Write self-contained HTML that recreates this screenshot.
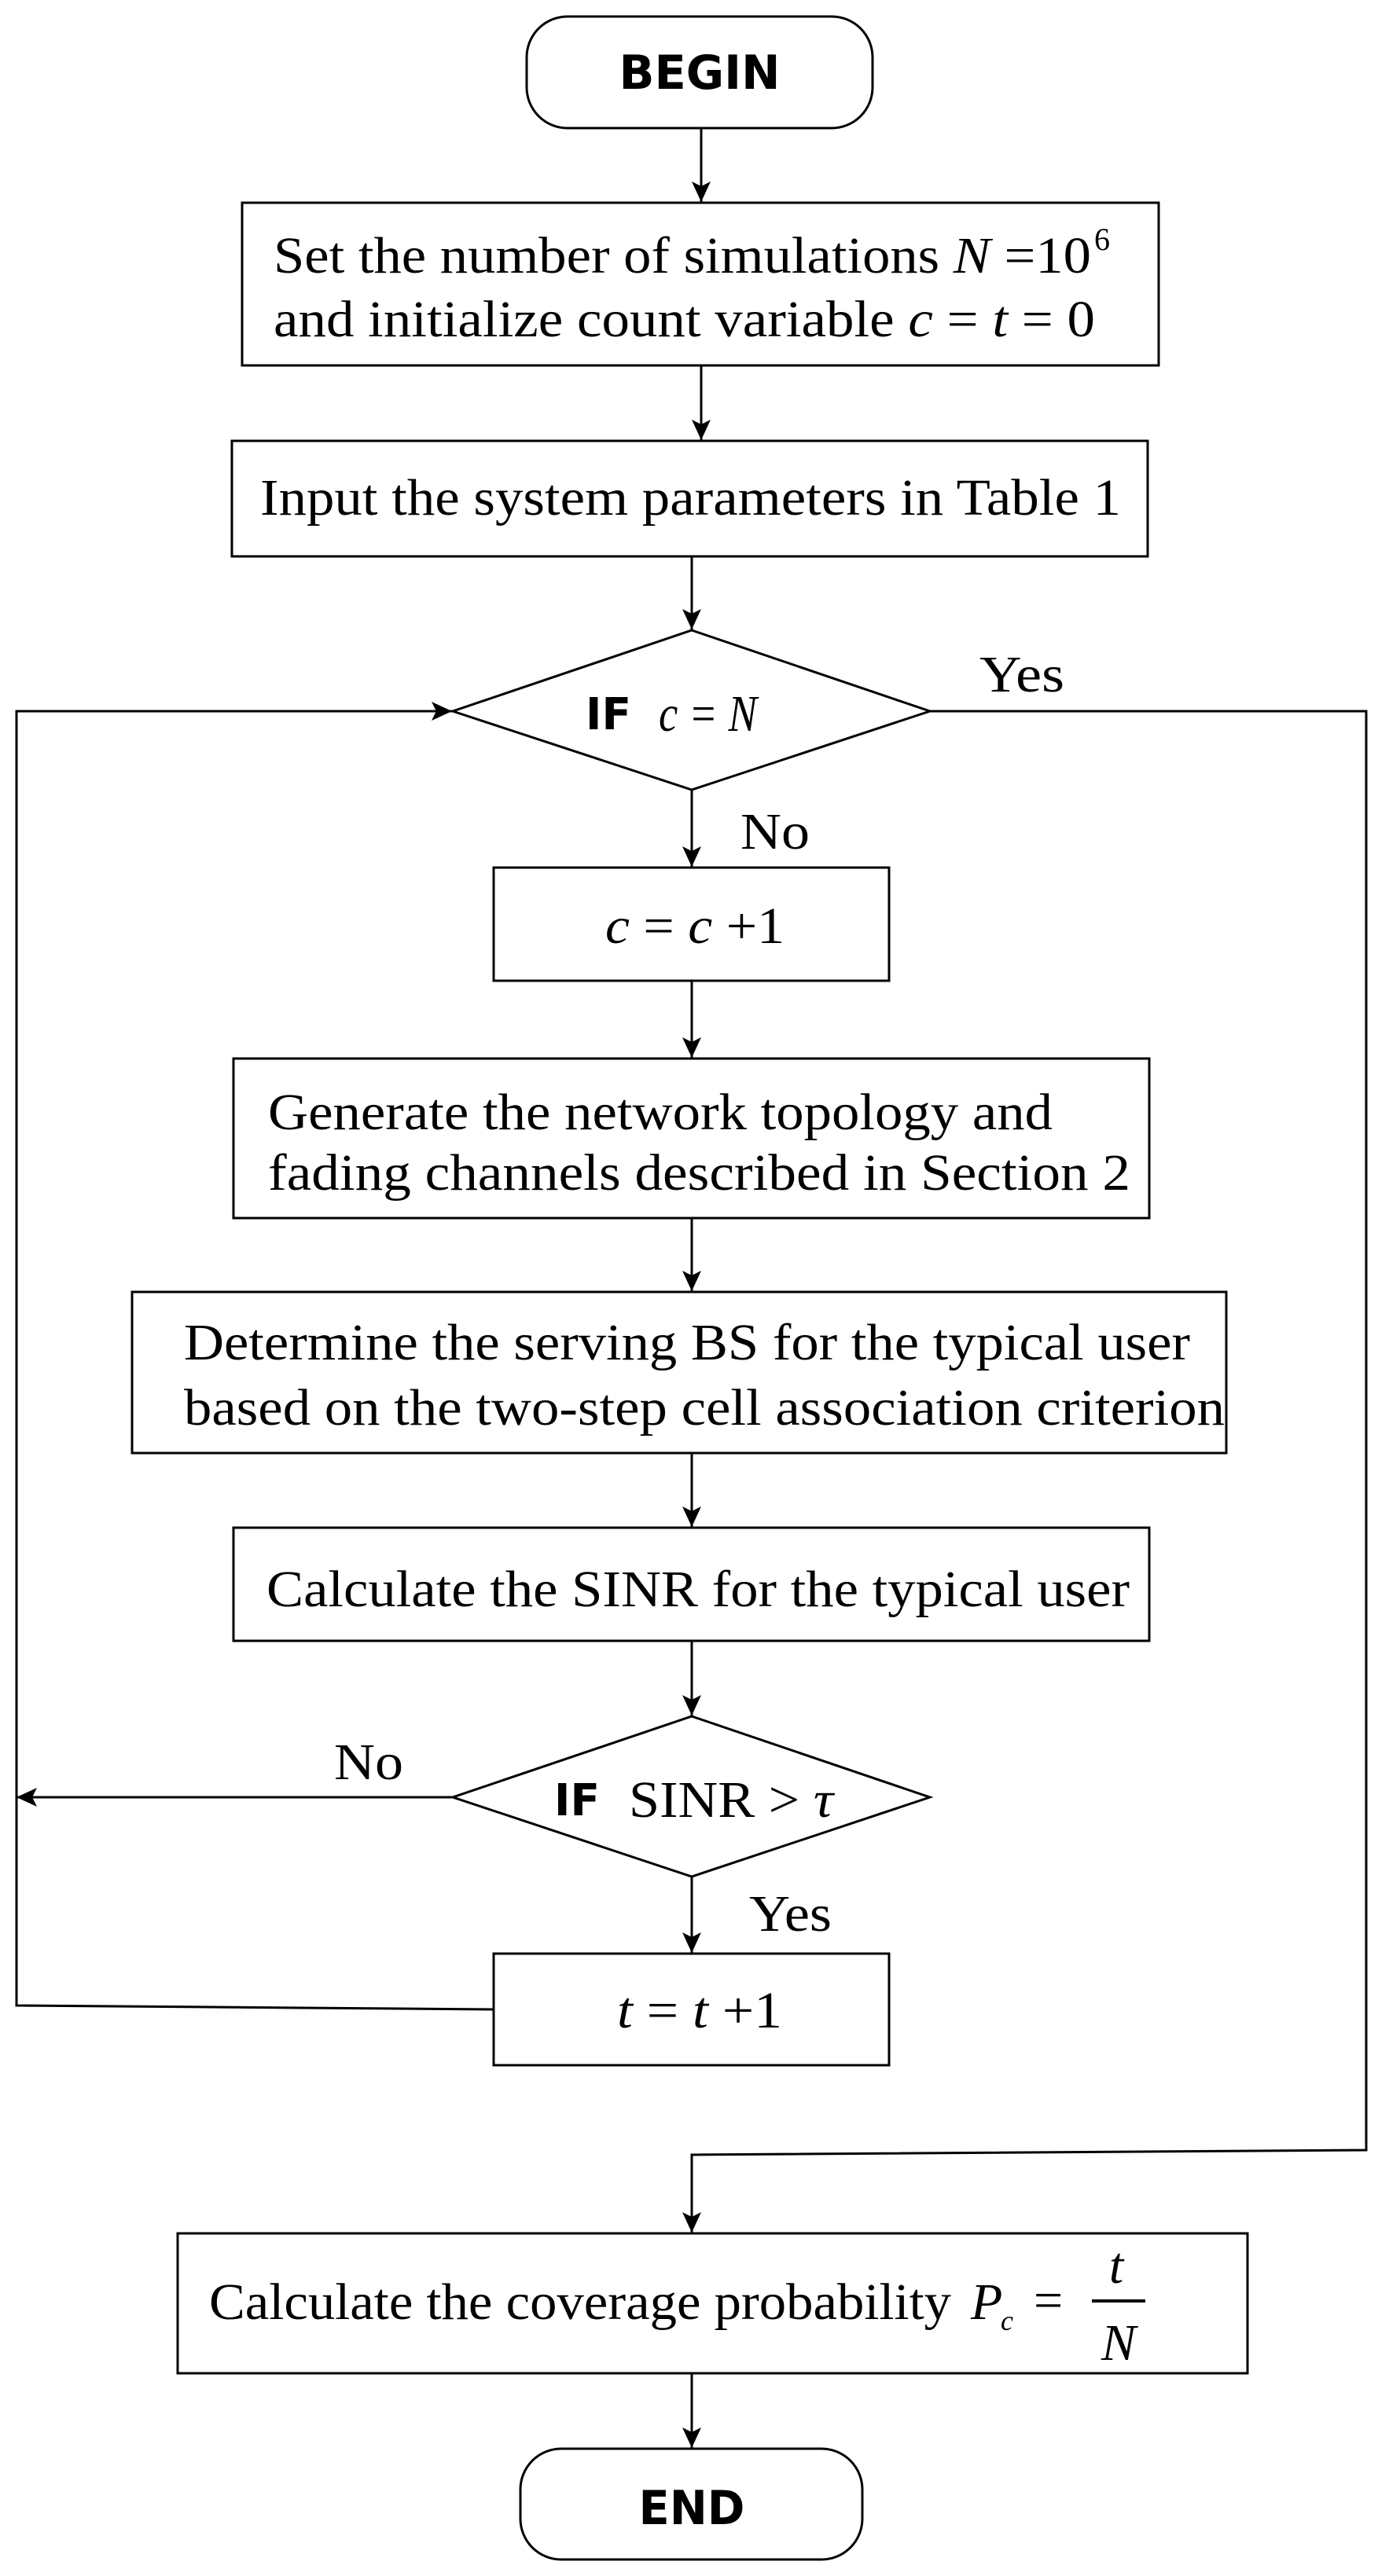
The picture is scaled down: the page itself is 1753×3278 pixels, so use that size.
<!DOCTYPE html>
<html><head><meta charset="utf-8"><style>html,body{margin:0;padding:0;background:#fff}svg{display:block}</style></head>
<body>
<svg width="1753" height="3278" viewBox="0 0 1753 3278" xmlns="http://www.w3.org/2000/svg">
<defs>
<marker id="ab" markerWidth="26" markerHeight="26" refX="26" refY="13" orient="auto" markerUnits="userSpaceOnUse">
<path d="M0,1 L26,13 L0,25 L6,13 Z" fill="#000"/>
</marker>
</defs>
<g fill="none" stroke="#000" stroke-width="3">
<rect x="670" y="21" width="440" height="142" rx="52"/>
<rect x="308" y="258" width="1166" height="207"/>
<rect x="295" y="561" width="1165" height="147"/>
<polygon points="880,802 1183,905 880,1005 576,905"/>
<rect x="628" y="1104" width="503" height="144"/>
<rect x="297" y="1347" width="1165" height="203"/>
<rect x="168" y="1644" width="1392" height="205"/>
<rect x="297" y="1944" width="1165" height="144"/>
<polygon points="880,2184 1183,2287 880,2388 576,2287"/>
<rect x="628" y="2486" width="503" height="142"/>
<rect x="226" y="2842" width="1361" height="178"/>
<rect x="662" y="3116" width="435" height="141" rx="52"/>
<line x1="892" y1="163" x2="892" y2="257" marker-end="url(#ab)"/>
<line x1="892" y1="465" x2="892" y2="560" marker-end="url(#ab)"/>
<line x1="880" y1="708" x2="880" y2="801" marker-end="url(#ab)"/>
<line x1="880" y1="1005" x2="880" y2="1103" marker-end="url(#ab)"/>
<line x1="880" y1="1248" x2="880" y2="1346" marker-end="url(#ab)"/>
<line x1="880" y1="1550" x2="880" y2="1643" marker-end="url(#ab)"/>
<line x1="880" y1="1849" x2="880" y2="1943" marker-end="url(#ab)"/>
<line x1="880" y1="2088" x2="880" y2="2183" marker-end="url(#ab)"/>
<line x1="880" y1="2388" x2="880" y2="2485" marker-end="url(#ab)"/>
<line x1="576" y1="2287" x2="21" y2="2287" marker-end="url(#ab)"/>
<polyline points="628,2557 21,2552 21,905 575,905" marker-end="url(#ab)"/>
<polyline points="1183,905 1738,905 1738,2736 880,2742 880,2841" marker-end="url(#ab)"/>
<line x1="880" y1="3020" x2="880" y2="3115" marker-end="url(#ab)"/>
</g>
<g font-family="'Liberation Serif', serif" font-size="66" fill="#000">
<text x="890" y="113" font-family="'DejaVu Sans','Liberation Sans',sans-serif" font-weight="bold" font-size="60" text-anchor="middle" textLength="205" lengthAdjust="spacingAndGlyphs">BEGIN</text>
<text x="348" y="347" textLength="1040" lengthAdjust="spacingAndGlyphs">Set the number of simulations <tspan font-style="italic">N</tspan> =10</text>
<text x="1392" y="318" font-size="40">6</text>
<text x="348" y="428" textLength="1045" lengthAdjust="spacingAndGlyphs">and initialize count variable <tspan font-style="italic">c</tspan> = <tspan font-style="italic">t</tspan> = 0</text>
<text x="331" y="655" textLength="1095" lengthAdjust="spacingAndGlyphs">Input the system parameters in Table 1</text>
<text x="745" y="928" font-family="'DejaVu Sans','Liberation Sans',sans-serif" font-weight="bold" font-size="56" textLength="58" lengthAdjust="spacingAndGlyphs">IF</text>
<text x="838" y="930" font-style="italic" textLength="125" lengthAdjust="spacingAndGlyphs">c = N</text>
<text x="1246" y="880" textLength="108" lengthAdjust="spacingAndGlyphs">Yes</text>
<text x="942" y="1080" textLength="88" lengthAdjust="spacingAndGlyphs">No</text>
<text x="770" y="1200" textLength="228" lengthAdjust="spacingAndGlyphs"><tspan font-style="italic">c</tspan> = <tspan font-style="italic">c</tspan> +1</text>
<text x="341" y="1437" textLength="998" lengthAdjust="spacingAndGlyphs">Generate the network topology and</text>
<text x="341" y="1514" textLength="1097" lengthAdjust="spacingAndGlyphs">fading channels described in Section 2</text>
<text x="234" y="1730" textLength="1280" lengthAdjust="spacingAndGlyphs">Determine the serving BS for the typical user</text>
<text x="234" y="1813" textLength="1324" lengthAdjust="spacingAndGlyphs">based on the two-step cell association criterion</text>
<text x="339" y="2044" textLength="1098" lengthAdjust="spacingAndGlyphs">Calculate the SINR for the typical user</text>
<text x="705" y="2310" font-family="'DejaVu Sans','Liberation Sans',sans-serif" font-weight="bold" font-size="56" textLength="58" lengthAdjust="spacingAndGlyphs">IF</text>
<text x="800" y="2312" textLength="260" lengthAdjust="spacingAndGlyphs">SINR &gt; <tspan font-style="italic">τ</tspan></text>
<text x="425" y="2264" textLength="88" lengthAdjust="spacingAndGlyphs">No</text>
<text x="953" y="2457" textLength="105" lengthAdjust="spacingAndGlyphs">Yes</text>
<text x="785" y="2580" textLength="210" lengthAdjust="spacingAndGlyphs"><tspan font-style="italic">t</tspan> = <tspan font-style="italic">t</tspan> +1</text>
<text x="266" y="2951" textLength="944" lengthAdjust="spacingAndGlyphs">Calculate the coverage probability</text>
<text x="1235" y="2951" font-style="italic">P</text>
<text x="1273" y="2965" font-style="italic" font-size="36">c</text>
<text x="1315" y="2949">=</text>
<text x="1420" y="2905" font-style="italic" text-anchor="middle">t</text>
<line x1="1389" y1="2928" x2="1457" y2="2928" stroke="#000" stroke-width="4"/>
<text x="1423" y="3003" font-style="italic" text-anchor="middle">N</text>
<text x="880" y="3212" font-family="'DejaVu Sans','Liberation Sans',sans-serif" font-weight="bold" font-size="60" text-anchor="middle" textLength="135" lengthAdjust="spacingAndGlyphs">END</text>
</g>
</svg>
</body></html>
